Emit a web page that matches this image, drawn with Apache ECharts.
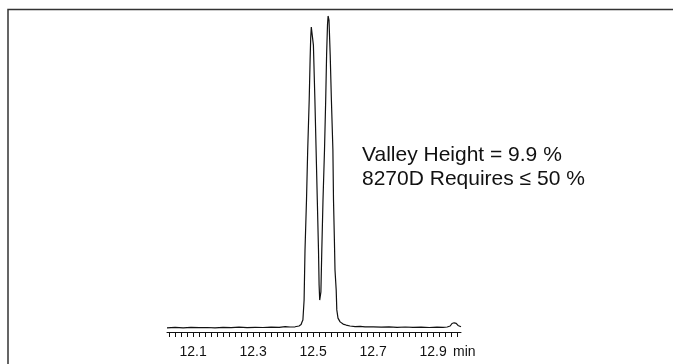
<!DOCTYPE html>
<html>
<head>
<meta charset="utf-8">
<script src="https://cdn.jsdelivr.net/npm/echarts@6/dist/echarts.min.js"></script>
<style>
  html, body { margin: 0; padding: 0; background: #fff; }
  #chart { width: 673px; height: 364px; }
</style>
</head>
<body>
<div id="chart"></div>
<script>
// retention time (min)
const times = [
  12.013, 12.04, 12.067, 12.093, 12.12, 12.147, 12.173, 12.2, 12.227, 12.253,
  12.28, 12.307, 12.333, 12.36, 12.387, 12.407, 12.423, 12.44, 12.453, 12.46,
  12.463, 12.466, 12.47, 12.473, 12.478, 12.482, 12.487, 12.49, 12.492, 12.494,
  12.497, 12.501, 12.506, 12.51, 12.514, 12.518, 12.52, 12.522, 12.526, 12.529,
  12.533, 12.538, 12.542, 12.545, 12.548, 12.55, 12.553, 12.557, 12.561, 12.566,
  12.568, 12.571, 12.573, 12.577, 12.579, 12.583, 12.59, 12.6, 12.61, 12.623,
  12.64, 12.657, 12.673, 12.7, 12.727, 12.753, 12.78, 12.807, 12.833, 12.86,
  12.887, 12.913, 12.933, 12.947, 12.957, 12.963, 12.97, 12.977, 12.983, 12.993
];
// detector response (% of largest peak)
const signal = [
  1.33, 1.46, 1.30, 1.49, 1.36, 1.42, 1.30, 1.46, 1.39, 1.52,
  1.36, 1.49, 1.42, 1.55, 1.46, 1.71, 1.58, 1.65, 1.90, 2.37,
  3.16, 3.80, 10.1, 25.9, 41.8, 57.6, 73.4, 86.1, 93.0, 96.5,
  95.9, 90.8, 73.4, 57.6, 41.8, 25.9, 14.9, 10.1, 12.7, 25.9,
  41.8, 57.6, 73.4, 87.7, 97.2, 100, 98.7, 87.7, 73.4, 57.6,
  41.8, 29.1, 19.6, 13.3, 7.0, 4.4, 3.2, 2.5, 2.2, 1.9,
  1.7, 1.8, 1.6, 1.65, 1.52, 1.61, 1.49, 1.58, 1.46, 1.55,
  1.42, 1.52, 1.46, 1.58, 1.90, 2.69, 2.91, 2.75, 2.06, 1.65
];
// trailing point of the trace
const lastTime = 12.993;
const lastSignal = 1.49;

const tickValues = [
  12.02, 12.04, 12.06, 12.08, 12.10, 12.12, 12.14, 12.16, 12.18, 12.20,
  12.22, 12.24, 12.26, 12.28, 12.30, 12.32, 12.34, 12.36, 12.38, 12.40,
  12.42, 12.44, 12.46, 12.48, 12.50, 12.52, 12.54, 12.56, 12.58, 12.60,
  12.62, 12.64, 12.66, 12.68, 12.70, 12.72, 12.74, 12.76, 12.78, 12.80,
  12.82, 12.84, 12.86, 12.88, 12.90, 12.92, 12.94, 12.96, 12.98
];
const labelValues = [12.1, 12.3, 12.5, 12.7, 12.9];
const unitLabel = 'min';

const noteLines = ['Valley Height = 9.9 %', '8270D Requires \u2264 50 %'];

const chart = echarts.init(document.getElementById('chart'));

const data = times.map((t, i) => [t, signal[i]]);
data.push([lastTime, lastSignal]);

const font = '"Liberation Sans", Arial, Helvetica, sans-serif';

chart.setOption({
  animation: false,
  grid: { left: 167, right: 212, top: 16, bottom: 32 },
  xAxis: {
    type: 'value',
    min: 12.013,
    max: 12.993,
    axisLine: { show: true, lineStyle: { color: '#111', width: 1 } },
    axisTick: { show: true, length: 5, customValues: tickValues, lineStyle: { color: '#111', width: 1 } },
    axisLabel: {
      show: true,
      customValues: labelValues,
      margin: 13,
      color: '#111',
      fontSize: 14,
      fontFamily: font,
      formatter: (v) => v.toFixed(1)
    },
    splitLine: { show: false }
  },
  yAxis: {
    type: 'value',
    min: 0,
    max: 100,
    show: false
  },
  graphic: [
    {
      type: 'rect',
      shape: { x: 8, y: 9.5, width: 700, height: 400 },
      style: { fill: 'none', stroke: '#333', lineWidth: 1.5 },
      silent: true
    },
    {
      type: 'text',
      left: 453,
      top: 345,
      style: { text: unitLabel, fontSize: 14, fontFamily: font, fill: '#111' }
    },
    {
      type: 'text',
      left: 362,
      top: 143,
      style: {
        text: noteLines.join('\n'),
        fontSize: 21,
        lineHeight: 24,
        fontFamily: font,
        fill: '#111'
      }
    }
  ],
  series: [
    {
      type: 'line',
      data: data,
      showSymbol: false,
      lineStyle: { color: '#111', width: 1.2 },
      silent: true
    }
  ]
});
</script>
</body>
</html>
